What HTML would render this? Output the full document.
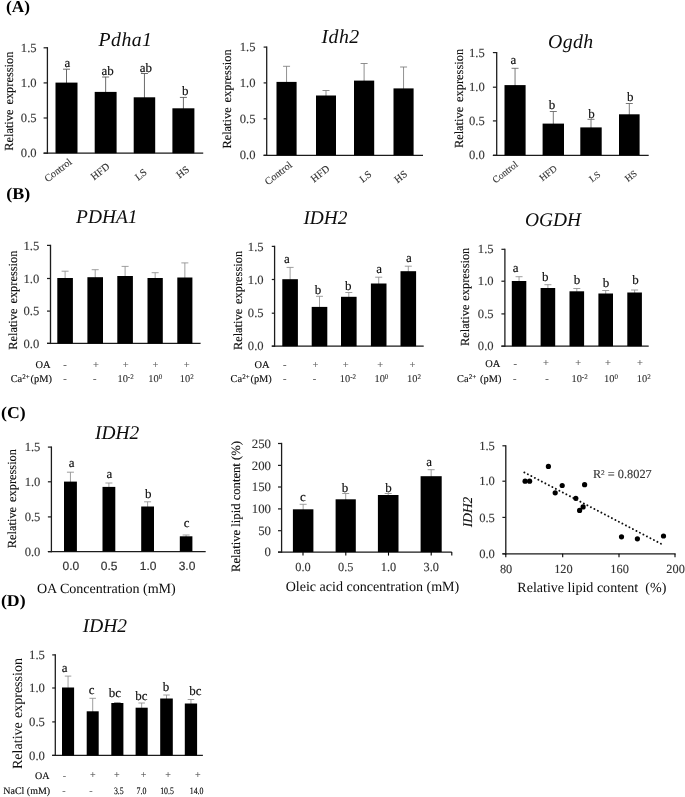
<!DOCTYPE html>
<html lang="en">
<head>
<meta charset="utf-8">
<title>Figure</title>
<style>
html, body { margin: 0; padding: 0; background: #ffffff; }
body { width: 685px; height: 797px; overflow: hidden; font-family: "Liberation Serif", serif; }
svg { display: block; }
svg text { font-family: "Liberation Serif", serif; text-rendering: geometricPrecision; stroke-width: 0.12px; }
svg text.sans { font-family: "Liberation Sans", sans-serif; stroke-width: 0.2px; }
</style>
</head>
<body>
<svg width="685" height="797" viewBox="0 0 685 797">
<defs><filter id="soft" x="0" y="0" width="685" height="797" filterUnits="userSpaceOnUse"><feGaussianBlur stdDeviation="0.38"/></filter></defs>
<rect x="0" y="0" width="685" height="797" fill="#ffffff"/>
<g filter="url(#soft)">
<text font-size="16.5" text-anchor="start" fill="#000" font-weight="bold" x="6" y="11.8" textLength="24" lengthAdjust="spacingAndGlyphs">(A)</text>
<text font-size="16.5" text-anchor="start" fill="#000" font-weight="bold" x="6.3" y="198.8" textLength="24" lengthAdjust="spacingAndGlyphs">(B)</text>
<text font-size="16.5" text-anchor="start" fill="#000" font-weight="bold" x="1" y="417.5" textLength="24.6" lengthAdjust="spacingAndGlyphs">(C)</text>
<text font-size="16.5" text-anchor="start" fill="#000" font-weight="bold" x="0.9" y="606.2" textLength="24.7" lengthAdjust="spacingAndGlyphs">(D)</text>
<text font-size="19.8" text-anchor="middle" fill="#0a0a0a" font-style="italic" x="125.5" y="46" letter-spacing="0.45">Pdha1</text>
<line x1="47.4" y1="47.15" x2="47.4" y2="153.85" stroke="#1c1c1c" stroke-width="1.3" />
<line x1="43.6" y1="47.8" x2="47.4" y2="47.8" stroke="#1c1c1c" stroke-width="1.2" />
<text font-size="12.6" text-anchor="end" fill="#333333" stroke="#333333" x="36.6" y="51.96">1.5</text>
<line x1="43.6" y1="82.9" x2="47.4" y2="82.9" stroke="#1c1c1c" stroke-width="1.2" />
<text font-size="12.6" text-anchor="end" fill="#333333" stroke="#333333" x="36.6" y="87.06">1.0</text>
<line x1="43.6" y1="118" x2="47.4" y2="118" stroke="#1c1c1c" stroke-width="1.2" />
<text font-size="12.6" text-anchor="end" fill="#333333" stroke="#333333" x="36.6" y="122.16">0.5</text>
<line x1="43.6" y1="153.2" x2="47.4" y2="153.2" stroke="#1c1c1c" stroke-width="1.2" />
<text font-size="12.6" text-anchor="end" fill="#333333" stroke="#333333" x="36.6" y="157.36">0.0</text>
<line x1="43.6" y1="153.2" x2="203.2" y2="153.2" stroke="#1c1c1c" stroke-width="1.3" />
<line x1="66.5" y1="69.2" x2="66.5" y2="83.6" stroke="#505050" stroke-width="0.85" />
<line x1="63" y1="69.2" x2="70" y2="69.2" stroke="#505050" stroke-width="0.85" />
<rect x="55.5" y="82.6" width="22" height="70.6" fill="#000"/>
<line x1="105.65" y1="77" x2="105.65" y2="92.9" stroke="#505050" stroke-width="0.85" />
<line x1="102.15" y1="77" x2="109.15" y2="77" stroke="#505050" stroke-width="0.85" />
<rect x="94.7" y="91.9" width="21.9" height="61.3" fill="#000"/>
<line x1="144.45" y1="73.5" x2="144.45" y2="98.3" stroke="#505050" stroke-width="0.85" />
<line x1="140.95" y1="73.5" x2="147.95" y2="73.5" stroke="#505050" stroke-width="0.85" />
<rect x="133.7" y="97.3" width="21.5" height="55.9" fill="#000"/>
<line x1="183.4" y1="97.4" x2="183.4" y2="109.3" stroke="#505050" stroke-width="0.85" />
<line x1="179.9" y1="97.4" x2="186.9" y2="97.4" stroke="#505050" stroke-width="0.85" />
<rect x="172.4" y="108.3" width="22" height="44.9" fill="#000"/>
<text font-size="13" text-anchor="middle" fill="#0a0a0a" stroke="#0a0a0a" x="67.4" y="67.4">a</text>
<text font-size="13" text-anchor="middle" fill="#0a0a0a" stroke="#0a0a0a" x="107.6" y="75.3">ab</text>
<text font-size="13" text-anchor="middle" fill="#0a0a0a" stroke="#0a0a0a" x="145.8" y="71.6">ab</text>
<text font-size="13" text-anchor="middle" fill="#0a0a0a" stroke="#0a0a0a" x="185.2" y="95">b</text>
<text font-size="12.4" text-anchor="middle" fill="#0a0a0a" stroke="#0a0a0a" transform="translate(13.02 101.2) rotate(-90)"  word-spacing="1.8">Relative expression</text>
<text font-size="10.3" text-anchor="middle" fill="#333333" stroke="#333333" transform="translate(60.1 172.83) rotate(-38)">Control</text>
<text font-size="10.3" text-anchor="middle" fill="#333333" stroke="#333333" transform="translate(102.2 174.13) rotate(-38)">HFD</text>
<text font-size="10.3" text-anchor="middle" fill="#333333" stroke="#333333" transform="translate(142.9 177.23) rotate(-38)">LS</text>
<text font-size="10.3" text-anchor="middle" fill="#333333" stroke="#333333" transform="translate(184.7 174.73) rotate(-38)">HS</text>
<text font-size="19.8" text-anchor="middle" fill="#0a0a0a" font-style="italic" x="340.6" y="43.2" letter-spacing="0.45">Idh2</text>
<line x1="266.7" y1="46.45" x2="266.7" y2="155.95" stroke="#1c1c1c" stroke-width="1.3" />
<line x1="263.6" y1="47.1" x2="266.7" y2="47.1" stroke="#1c1c1c" stroke-width="1.2" />
<text font-size="12.6" text-anchor="end" fill="#333333" stroke="#333333" x="255.5" y="51.26">1.5</text>
<line x1="263.6" y1="82.9" x2="266.7" y2="82.9" stroke="#1c1c1c" stroke-width="1.2" />
<text font-size="12.6" text-anchor="end" fill="#333333" stroke="#333333" x="255.5" y="87.06">1.0</text>
<line x1="263.6" y1="118.8" x2="266.7" y2="118.8" stroke="#1c1c1c" stroke-width="1.2" />
<text font-size="12.6" text-anchor="end" fill="#333333" stroke="#333333" x="255.5" y="122.96">0.5</text>
<line x1="263.6" y1="155.3" x2="266.7" y2="155.3" stroke="#1c1c1c" stroke-width="1.2" />
<text font-size="12.6" text-anchor="end" fill="#333333" stroke="#333333" x="255.5" y="159.46">0.0</text>
<line x1="263.6" y1="155.3" x2="423" y2="155.3" stroke="#1c1c1c" stroke-width="1.3" />
<line x1="286.55" y1="66.3" x2="286.55" y2="82.9" stroke="#7c7c7c" stroke-width="0.85" />
<line x1="283.05" y1="66.3" x2="290.05" y2="66.3" stroke="#7c7c7c" stroke-width="0.85" />
<rect x="276.5" y="81.9" width="20.1" height="73.4" fill="#000"/>
<line x1="326" y1="90.5" x2="326" y2="96.5" stroke="#7c7c7c" stroke-width="0.85" />
<line x1="322.5" y1="90.5" x2="329.5" y2="90.5" stroke="#7c7c7c" stroke-width="0.85" />
<rect x="316" y="95.5" width="20" height="59.8" fill="#000"/>
<line x1="364.1" y1="63.5" x2="364.1" y2="81.6" stroke="#7c7c7c" stroke-width="0.85" />
<line x1="360.6" y1="63.5" x2="367.6" y2="63.5" stroke="#7c7c7c" stroke-width="0.85" />
<rect x="354" y="80.6" width="20.2" height="74.7" fill="#000"/>
<line x1="403.55" y1="67" x2="403.55" y2="89.4" stroke="#7c7c7c" stroke-width="0.85" />
<line x1="400.05" y1="67" x2="407.05" y2="67" stroke="#7c7c7c" stroke-width="0.85" />
<rect x="393.5" y="88.4" width="20.1" height="66.9" fill="#000"/>
<text font-size="12.4" text-anchor="middle" fill="#0a0a0a" stroke="#0a0a0a" transform="translate(231.22 99) rotate(-90)"  word-spacing="1.8">Relative expression</text>
<text font-size="10.3" text-anchor="middle" fill="#333333" stroke="#333333" transform="translate(280.4 175.83) rotate(-38)">Control</text>
<text font-size="10.3" text-anchor="middle" fill="#333333" stroke="#333333" transform="translate(322.2 176.33) rotate(-38)">HFD</text>
<text font-size="10.3" text-anchor="middle" fill="#333333" stroke="#333333" transform="translate(367.5 179.23) rotate(-38)">LS</text>
<text font-size="10.3" text-anchor="middle" fill="#333333" stroke="#333333" transform="translate(402.7 179.33) rotate(-38)">HS</text>
<text font-size="19.8" text-anchor="middle" fill="#0a0a0a" font-style="italic" x="570.8" y="47.7" letter-spacing="0.35">Ogdh</text>
<line x1="496.7" y1="51.95" x2="496.7" y2="155.95" stroke="#1c1c1c" stroke-width="1.3" />
<line x1="492.9" y1="52.6" x2="496.7" y2="52.6" stroke="#1c1c1c" stroke-width="1.2" />
<text font-size="12.6" text-anchor="end" fill="#333333" stroke="#333333" x="484.7" y="56.76">1.5</text>
<line x1="492.9" y1="87.2" x2="496.7" y2="87.2" stroke="#1c1c1c" stroke-width="1.2" />
<text font-size="12.6" text-anchor="end" fill="#333333" stroke="#333333" x="484.7" y="91.36">1.0</text>
<line x1="492.9" y1="120.9" x2="496.7" y2="120.9" stroke="#1c1c1c" stroke-width="1.2" />
<text font-size="12.6" text-anchor="end" fill="#333333" stroke="#333333" x="484.7" y="125.06">0.5</text>
<line x1="492.9" y1="155.3" x2="496.7" y2="155.3" stroke="#1c1c1c" stroke-width="1.2" />
<text font-size="12.6" text-anchor="end" fill="#333333" stroke="#333333" x="484.7" y="159.46">0.0</text>
<line x1="492.9" y1="155.3" x2="648.7" y2="155.3" stroke="#1c1c1c" stroke-width="1.3" />
<line x1="515.05" y1="68.3" x2="515.05" y2="86.1" stroke="#606060" stroke-width="0.85" />
<line x1="511.55" y1="68.3" x2="518.55" y2="68.3" stroke="#606060" stroke-width="0.85" />
<rect x="504.5" y="85.1" width="21.1" height="70.2" fill="#000"/>
<line x1="553.3" y1="111.5" x2="553.3" y2="124.6" stroke="#606060" stroke-width="0.85" />
<line x1="549.8" y1="111.5" x2="556.8" y2="111.5" stroke="#606060" stroke-width="0.85" />
<rect x="542.6" y="123.6" width="21.4" height="31.7" fill="#000"/>
<line x1="591" y1="119.3" x2="591" y2="128.4" stroke="#606060" stroke-width="0.85" />
<line x1="587.5" y1="119.3" x2="594.5" y2="119.3" stroke="#606060" stroke-width="0.85" />
<rect x="580.3" y="127.4" width="21.4" height="27.9" fill="#000"/>
<line x1="629.3" y1="103.5" x2="629.3" y2="115.3" stroke="#606060" stroke-width="0.85" />
<line x1="625.8" y1="103.5" x2="632.8" y2="103.5" stroke="#606060" stroke-width="0.85" />
<rect x="619" y="114.3" width="20.6" height="41" fill="#000"/>
<text font-size="13" text-anchor="middle" fill="#0a0a0a" stroke="#0a0a0a" x="513.4" y="64.3">a</text>
<text font-size="13" text-anchor="middle" fill="#0a0a0a" stroke="#0a0a0a" x="552" y="109.3">b</text>
<text font-size="13" text-anchor="middle" fill="#0a0a0a" stroke="#0a0a0a" x="591.4" y="117.6">b</text>
<text font-size="13" text-anchor="middle" fill="#0a0a0a" stroke="#0a0a0a" x="630.3" y="100.5">b</text>
<text font-size="12.4" text-anchor="middle" fill="#0a0a0a" stroke="#0a0a0a" transform="translate(462.52 98.5) rotate(-90)"  word-spacing="1.8">Relative expression</text>
<text font-size="9.6" text-anchor="middle" fill="#333333" stroke="#333333" transform="translate(507.17 174.57) rotate(-38)">Control</text>
<text font-size="9.6" text-anchor="middle" fill="#333333" stroke="#333333" transform="translate(550.07 175.57) rotate(-38)">HFD</text>
<text font-size="9.6" text-anchor="middle" fill="#333333" stroke="#333333" transform="translate(596.77 179.17) rotate(-38)">LS</text>
<text font-size="9.6" text-anchor="middle" fill="#333333" stroke="#333333" transform="translate(632.77 178.57) rotate(-38)">HS</text>
<text font-size="19.4" text-anchor="middle" fill="#0a0a0a" font-style="italic" x="106.8" y="222.7">PDHA1</text>
<line x1="50.5" y1="244.75" x2="50.5" y2="344.05" stroke="#1c1c1c" stroke-width="1.3" />
<line x1="47" y1="245.4" x2="50.5" y2="245.4" stroke="#1c1c1c" stroke-width="1.2" />
<text font-size="12.6" text-anchor="end" fill="#333333" stroke="#333333" x="39.3" y="249.56">1.5</text>
<line x1="47" y1="278.5" x2="50.5" y2="278.5" stroke="#1c1c1c" stroke-width="1.2" />
<text font-size="12.6" text-anchor="end" fill="#333333" stroke="#333333" x="39.3" y="282.66">1.0</text>
<line x1="47" y1="311.1" x2="50.5" y2="311.1" stroke="#1c1c1c" stroke-width="1.2" />
<text font-size="12.6" text-anchor="end" fill="#333333" stroke="#333333" x="39.3" y="315.26">0.5</text>
<line x1="47" y1="343.4" x2="50.5" y2="343.4" stroke="#1c1c1c" stroke-width="1.2" />
<text font-size="12.6" text-anchor="end" fill="#333333" stroke="#333333" x="39.3" y="347.56">0.0</text>
<line x1="47" y1="343.4" x2="200.6" y2="343.4" stroke="#1c1c1c" stroke-width="1.3" />
<line x1="65.1" y1="271.2" x2="65.1" y2="279" stroke="#8e8e8e" stroke-width="0.85" />
<line x1="61.6" y1="271.2" x2="68.6" y2="271.2" stroke="#8e8e8e" stroke-width="0.85" />
<rect x="57.3" y="278" width="15.6" height="65.4" fill="#000"/>
<line x1="95.2" y1="269.7" x2="95.2" y2="278.2" stroke="#8e8e8e" stroke-width="0.85" />
<line x1="91.7" y1="269.7" x2="98.7" y2="269.7" stroke="#8e8e8e" stroke-width="0.85" />
<rect x="87.4" y="277.2" width="15.6" height="66.2" fill="#000"/>
<line x1="125.1" y1="266.4" x2="125.1" y2="277" stroke="#8e8e8e" stroke-width="0.85" />
<line x1="121.6" y1="266.4" x2="128.6" y2="266.4" stroke="#8e8e8e" stroke-width="0.85" />
<rect x="117.3" y="276" width="15.6" height="67.4" fill="#000"/>
<line x1="155.15" y1="272.7" x2="155.15" y2="279" stroke="#8e8e8e" stroke-width="0.85" />
<line x1="151.65" y1="272.7" x2="158.65" y2="272.7" stroke="#8e8e8e" stroke-width="0.85" />
<rect x="147.5" y="278" width="15.3" height="65.4" fill="#000"/>
<line x1="184.85" y1="262.9" x2="184.85" y2="278.5" stroke="#8e8e8e" stroke-width="0.85" />
<line x1="181.35" y1="262.9" x2="188.35" y2="262.9" stroke="#8e8e8e" stroke-width="0.85" />
<rect x="177.3" y="277.5" width="15.1" height="65.9" fill="#000"/>
<text font-size="12.4" text-anchor="middle" fill="#0a0a0a" stroke="#0a0a0a" transform="translate(17.02 300.2) rotate(-90)"  word-spacing="1.8">Relative expression</text>
<text font-size="10.4" text-anchor="end" fill="#0a0a0a" stroke="#0a0a0a" x="50.4" y="367.9">OA</text>
<text font-size="10.4" text-anchor="end" fill="#0a0a0a" stroke="#0a0a0a" x="51.9" y="381.8">Ca<tspan font-size="68%" dy="-3">2+</tspan><tspan dy="3" dx="0.8">(pM)</tspan></text>
<text font-size="10.4" text-anchor="middle" fill="#555555" stroke="#555555" x="65.1" y="367.5">-</text>
<text font-size="10.4" text-anchor="middle" fill="#555555" stroke="#555555" x="96" y="367.5">+</text>
<text font-size="10.4" text-anchor="middle" fill="#555555" stroke="#555555" x="125.8" y="367.5">+</text>
<text font-size="10.4" text-anchor="middle" fill="#555555" stroke="#555555" x="155.5" y="367.5">+</text>
<text font-size="10.4" text-anchor="middle" fill="#555555" stroke="#555555" x="186.8" y="367.5">+</text>
<text font-size="10.4" text-anchor="middle" fill="#555555" stroke="#555555" x="65.1" y="381.5">-</text>
<text font-size="10.4" text-anchor="middle" fill="#555555" stroke="#555555" x="94.8" y="381.5">-</text>
<text font-size="10.4" text-anchor="middle" fill="#333333" stroke="#333333" x="125.6" y="381.8">10<tspan font-size="68%" dy="-3">-2</tspan></text>
<text font-size="10.4" text-anchor="middle" fill="#333333" stroke="#333333" x="155.3" y="381.8">10<tspan font-size="68%" dy="-3">0</tspan></text>
<text font-size="10.4" text-anchor="middle" fill="#333333" stroke="#333333" x="186.8" y="381.8">10<tspan font-size="68%" dy="-3">2</tspan></text>
<text font-size="19.4" text-anchor="middle" fill="#0a0a0a" font-style="italic" x="325.5" y="224">IDH2</text>
<line x1="274.6" y1="245.75" x2="274.6" y2="346.85" stroke="#1c1c1c" stroke-width="1.3" />
<line x1="271.8" y1="246.4" x2="274.6" y2="246.4" stroke="#1c1c1c" stroke-width="1.2" />
<text font-size="12.6" text-anchor="end" fill="#333333" stroke="#333333" x="263.6" y="250.56">1.5</text>
<line x1="271.8" y1="279.5" x2="274.6" y2="279.5" stroke="#1c1c1c" stroke-width="1.2" />
<text font-size="12.6" text-anchor="end" fill="#333333" stroke="#333333" x="263.6" y="283.66">1.0</text>
<line x1="271.8" y1="313.2" x2="274.6" y2="313.2" stroke="#1c1c1c" stroke-width="1.2" />
<text font-size="12.6" text-anchor="end" fill="#333333" stroke="#333333" x="263.6" y="317.36">0.5</text>
<line x1="271.8" y1="346.2" x2="274.6" y2="346.2" stroke="#1c1c1c" stroke-width="1.2" />
<text font-size="12.6" text-anchor="end" fill="#333333" stroke="#333333" x="263.6" y="350.36">0.0</text>
<line x1="271.8" y1="346.2" x2="423.7" y2="346.2" stroke="#1c1c1c" stroke-width="1.3" />
<line x1="290.1" y1="267.4" x2="290.1" y2="280.2" stroke="#8e8e8e" stroke-width="0.85" />
<line x1="286.6" y1="267.4" x2="293.6" y2="267.4" stroke="#8e8e8e" stroke-width="0.85" />
<rect x="282.3" y="279.2" width="15.6" height="67" fill="#000"/>
<line x1="319.5" y1="296.3" x2="319.5" y2="307.9" stroke="#8e8e8e" stroke-width="0.85" />
<line x1="316" y1="296.3" x2="323" y2="296.3" stroke="#8e8e8e" stroke-width="0.85" />
<rect x="311.7" y="306.9" width="15.6" height="39.3" fill="#000"/>
<line x1="348.8" y1="292.5" x2="348.8" y2="297.8" stroke="#8e8e8e" stroke-width="0.85" />
<line x1="345.3" y1="292.5" x2="352.3" y2="292.5" stroke="#8e8e8e" stroke-width="0.85" />
<rect x="341" y="296.8" width="15.6" height="49.4" fill="#000"/>
<line x1="378.7" y1="277.2" x2="378.7" y2="284.5" stroke="#8e8e8e" stroke-width="0.85" />
<line x1="375.2" y1="277.2" x2="382.2" y2="277.2" stroke="#8e8e8e" stroke-width="0.85" />
<rect x="370.9" y="283.5" width="15.6" height="62.7" fill="#000"/>
<line x1="408.3" y1="266.2" x2="408.3" y2="272.2" stroke="#8e8e8e" stroke-width="0.85" />
<line x1="404.8" y1="266.2" x2="411.8" y2="266.2" stroke="#8e8e8e" stroke-width="0.85" />
<rect x="400.5" y="271.2" width="15.6" height="75" fill="#000"/>
<text font-size="13" text-anchor="middle" fill="#0a0a0a" stroke="#0a0a0a" x="286.8" y="263.4">a</text>
<text font-size="13" text-anchor="middle" fill="#0a0a0a" stroke="#0a0a0a" x="317.9" y="293.7">b</text>
<text font-size="13" text-anchor="middle" fill="#0a0a0a" stroke="#0a0a0a" x="348.3" y="289.8">b</text>
<text font-size="13" text-anchor="middle" fill="#0a0a0a" stroke="#0a0a0a" x="379.2" y="273.2">a</text>
<text font-size="13" text-anchor="middle" fill="#0a0a0a" stroke="#0a0a0a" x="408.9" y="261.6">a</text>
<text font-size="12.4" text-anchor="middle" fill="#0a0a0a" stroke="#0a0a0a" transform="translate(241.52 300.5) rotate(-90)"  word-spacing="1.8">Relative expression</text>
<text font-size="10.4" text-anchor="end" fill="#0a0a0a" stroke="#0a0a0a" x="269.6" y="368">OA</text>
<text font-size="10.4" text-anchor="end" fill="#0a0a0a" stroke="#0a0a0a" x="271.8" y="381.9">Ca<tspan font-size="68%" dy="-3">2+</tspan><tspan dy="3" dx="0.8">(pM)</tspan></text>
<text font-size="10.4" text-anchor="middle" fill="#555555" stroke="#555555" x="284.8" y="367.5">-</text>
<text font-size="10.4" text-anchor="middle" fill="#555555" stroke="#555555" x="315.5" y="367.5">+</text>
<text font-size="10.4" text-anchor="middle" fill="#555555" stroke="#555555" x="345.8" y="367.5">+</text>
<text font-size="10.4" text-anchor="middle" fill="#555555" stroke="#555555" x="380.2" y="367.5">+</text>
<text font-size="10.4" text-anchor="middle" fill="#555555" stroke="#555555" x="412.4" y="367.5">+</text>
<text font-size="10.4" text-anchor="middle" fill="#555555" stroke="#555555" x="284.8" y="381.5">-</text>
<text font-size="10.4" text-anchor="middle" fill="#555555" stroke="#555555" x="314.5" y="381.5">-</text>
<text font-size="10.4" text-anchor="middle" fill="#333333" stroke="#333333" x="348" y="381.9">10<tspan font-size="68%" dy="-3">-2</tspan></text>
<text font-size="10.4" text-anchor="middle" fill="#333333" stroke="#333333" x="381.4" y="381.9">10<tspan font-size="68%" dy="-3">0</tspan></text>
<text font-size="10.4" text-anchor="middle" fill="#333333" stroke="#333333" x="414" y="381.9">10<tspan font-size="68%" dy="-3">2</tspan></text>
<text font-size="19.4" text-anchor="middle" fill="#0a0a0a" font-style="italic" x="553" y="226">OGDH</text>
<line x1="504.9" y1="248.65" x2="504.9" y2="346.85" stroke="#1c1c1c" stroke-width="1.3" />
<line x1="501.4" y1="249.3" x2="504.9" y2="249.3" stroke="#1c1c1c" stroke-width="1.2" />
<text font-size="12.6" text-anchor="end" fill="#333333" stroke="#333333" x="493.6" y="253.46">1.5</text>
<line x1="501.4" y1="281.2" x2="504.9" y2="281.2" stroke="#1c1c1c" stroke-width="1.2" />
<text font-size="12.6" text-anchor="end" fill="#333333" stroke="#333333" x="493.6" y="285.36">1.0</text>
<line x1="501.4" y1="313.9" x2="504.9" y2="313.9" stroke="#1c1c1c" stroke-width="1.2" />
<text font-size="12.6" text-anchor="end" fill="#333333" stroke="#333333" x="493.6" y="318.06">0.5</text>
<line x1="501.4" y1="346.2" x2="504.9" y2="346.2" stroke="#1c1c1c" stroke-width="1.2" />
<text font-size="12.6" text-anchor="end" fill="#333333" stroke="#333333" x="493.6" y="350.36">0.0</text>
<line x1="501.4" y1="346.2" x2="648.7" y2="346.2" stroke="#1c1c1c" stroke-width="1.3" />
<line x1="519.05" y1="276.7" x2="519.05" y2="282" stroke="#8e8e8e" stroke-width="0.85" />
<line x1="515.55" y1="276.7" x2="522.55" y2="276.7" stroke="#8e8e8e" stroke-width="0.85" />
<rect x="511.8" y="281" width="14.5" height="65.2" fill="#000"/>
<line x1="547.9" y1="284.7" x2="547.9" y2="289" stroke="#8e8e8e" stroke-width="0.85" />
<line x1="544.4" y1="284.7" x2="551.4" y2="284.7" stroke="#8e8e8e" stroke-width="0.85" />
<rect x="540.6" y="288" width="14.6" height="58.2" fill="#000"/>
<line x1="576.8" y1="288.5" x2="576.8" y2="292.3" stroke="#8e8e8e" stroke-width="0.85" />
<line x1="573.3" y1="288.5" x2="580.3" y2="288.5" stroke="#8e8e8e" stroke-width="0.85" />
<rect x="569.5" y="291.3" width="14.6" height="54.9" fill="#000"/>
<line x1="605.7" y1="290.5" x2="605.7" y2="294.5" stroke="#8e8e8e" stroke-width="0.85" />
<line x1="602.2" y1="290.5" x2="609.2" y2="290.5" stroke="#8e8e8e" stroke-width="0.85" />
<rect x="598.4" y="293.5" width="14.6" height="52.7" fill="#000"/>
<line x1="634.6" y1="290" x2="634.6" y2="293.5" stroke="#8e8e8e" stroke-width="0.85" />
<line x1="631.1" y1="290" x2="638.1" y2="290" stroke="#8e8e8e" stroke-width="0.85" />
<rect x="627.3" y="292.5" width="14.6" height="53.7" fill="#000"/>
<text font-size="13" text-anchor="middle" fill="#0a0a0a" stroke="#0a0a0a" x="515.7" y="272.2">a</text>
<text font-size="13" text-anchor="middle" fill="#0a0a0a" stroke="#0a0a0a" x="545.2" y="281">b</text>
<text font-size="13" text-anchor="middle" fill="#0a0a0a" stroke="#0a0a0a" x="577" y="283.7">b</text>
<text font-size="13" text-anchor="middle" fill="#0a0a0a" stroke="#0a0a0a" x="606" y="287.2">b</text>
<text font-size="13" text-anchor="middle" fill="#0a0a0a" stroke="#0a0a0a" x="635.4" y="283.7">b</text>
<text font-size="12.4" text-anchor="middle" fill="#0a0a0a" stroke="#0a0a0a" transform="translate(469.42 296.8) rotate(-90)"  word-spacing="0.8">Relative expression</text>
<text font-size="10.4" text-anchor="end" fill="#0a0a0a" stroke="#0a0a0a" x="500.2" y="366.5">OA</text>
<text font-size="10.4" text-anchor="end" fill="#0a0a0a" stroke="#0a0a0a" x="501.4" y="381.5">Ca<tspan font-size="68%" dy="-3">2+</tspan><tspan dy="3" dx="3.9">(pM)</tspan></text>
<text font-size="10.4" text-anchor="middle" fill="#555555" stroke="#555555" x="515.2" y="366.8">-</text>
<text font-size="10.4" text-anchor="middle" fill="#555555" stroke="#555555" x="545.9" y="366">+</text>
<text font-size="10.4" text-anchor="middle" fill="#555555" stroke="#555555" x="578.3" y="366">+</text>
<text font-size="10.4" text-anchor="middle" fill="#555555" stroke="#555555" x="608" y="366">+</text>
<text font-size="10.4" text-anchor="middle" fill="#555555" stroke="#555555" x="639.9" y="366">+</text>
<text font-size="10.4" text-anchor="middle" fill="#555555" stroke="#555555" x="514.8" y="381.8">-</text>
<text font-size="10.4" text-anchor="middle" fill="#555555" stroke="#555555" x="547" y="381.8">-</text>
<text font-size="10.4" text-anchor="middle" fill="#333333" stroke="#333333" x="579.6" y="381.5">10<tspan font-size="68%" dy="-3">-2</tspan></text>
<text font-size="10.4" text-anchor="middle" fill="#333333" stroke="#333333" x="611" y="381.5">10<tspan font-size="68%" dy="-3">0</tspan></text>
<text font-size="10.4" text-anchor="middle" fill="#333333" stroke="#333333" x="643.7" y="381.5">10<tspan font-size="68%" dy="-3">2</tspan></text>
<text font-size="19.4" text-anchor="middle" fill="#0a0a0a" font-style="italic" x="117.2" y="439">IDH2</text>
<line x1="51.4" y1="446.45" x2="51.4" y2="552.25" stroke="#1c1c1c" stroke-width="1.3" />
<line x1="47.9" y1="447.1" x2="51.4" y2="447.1" stroke="#1c1c1c" stroke-width="1.2" />
<text font-size="12.6" text-anchor="end" fill="#333333" stroke="#333333" x="40.4" y="451.26">1.5</text>
<line x1="47.9" y1="481.8" x2="51.4" y2="481.8" stroke="#1c1c1c" stroke-width="1.2" />
<text font-size="12.6" text-anchor="end" fill="#333333" stroke="#333333" x="40.4" y="485.96">1.0</text>
<line x1="47.9" y1="516.9" x2="51.4" y2="516.9" stroke="#1c1c1c" stroke-width="1.2" />
<text font-size="12.6" text-anchor="end" fill="#333333" stroke="#333333" x="40.4" y="521.06">0.5</text>
<line x1="47.9" y1="551.6" x2="51.4" y2="551.6" stroke="#1c1c1c" stroke-width="1.2" />
<text font-size="12.6" text-anchor="end" fill="#333333" stroke="#333333" x="40.4" y="555.76">0.0</text>
<line x1="47.9" y1="551.6" x2="205.7" y2="551.6" stroke="#1c1c1c" stroke-width="1.3" />
<line x1="70.45" y1="472.2" x2="70.45" y2="482.6" stroke="#8e8e8e" stroke-width="0.85" />
<line x1="66.95" y1="472.2" x2="73.95" y2="472.2" stroke="#8e8e8e" stroke-width="0.85" />
<rect x="64" y="481.6" width="12.9" height="70" fill="#000"/>
<line x1="108.9" y1="483" x2="108.9" y2="487.9" stroke="#8e8e8e" stroke-width="0.85" />
<line x1="105.4" y1="483" x2="112.4" y2="483" stroke="#8e8e8e" stroke-width="0.85" />
<rect x="102.5" y="486.9" width="12.8" height="64.7" fill="#000"/>
<line x1="147.6" y1="501.8" x2="147.6" y2="507.5" stroke="#8e8e8e" stroke-width="0.85" />
<line x1="144.1" y1="501.8" x2="151.1" y2="501.8" stroke="#8e8e8e" stroke-width="0.85" />
<rect x="141.2" y="506.5" width="12.8" height="45.1" fill="#000"/>
<line x1="186.1" y1="535" x2="186.1" y2="537.3" stroke="#8e8e8e" stroke-width="0.85" />
<line x1="182.6" y1="535" x2="189.6" y2="535" stroke="#8e8e8e" stroke-width="0.85" />
<rect x="179.8" y="536.3" width="12.6" height="15.3" fill="#000"/>
<text font-size="13" text-anchor="middle" fill="#0a0a0a" stroke="#0a0a0a" x="71.6" y="466.7">a</text>
<text font-size="13" text-anchor="middle" fill="#0a0a0a" stroke="#0a0a0a" x="109.3" y="477.8">a</text>
<text font-size="13" text-anchor="middle" fill="#0a0a0a" stroke="#0a0a0a" x="148.2" y="497.9">b</text>
<text font-size="13" text-anchor="middle" fill="#0a0a0a" stroke="#0a0a0a" x="186.6" y="527.3">c</text>
<text font-size="12.4" text-anchor="middle" fill="#0a0a0a" stroke="#0a0a0a" transform="translate(15.72 498.6) rotate(-90)"  word-spacing="1.8">Relative expression</text>
<text font-size="12" text-anchor="middle" fill="#333" stroke="#333" class="sans" x="70.8" y="569.7">0.0</text>
<text font-size="12" text-anchor="middle" fill="#333" stroke="#333" class="sans" x="109.2" y="569.7">0.5</text>
<text font-size="12" text-anchor="middle" fill="#333" stroke="#333" class="sans" x="148.1" y="569.7">1.0</text>
<text font-size="12" text-anchor="middle" fill="#333" stroke="#333" class="sans" x="187" y="569.7">3.0</text>
<text font-size="14.05" text-anchor="start" fill="#0a0a0a" x="36.9" y="592.6">OA Concentration (mM)</text>
<line x1="281.6" y1="442.85" x2="281.6" y2="552.75" stroke="#1c1c1c" stroke-width="1.3" />
<line x1="278" y1="443.5" x2="281.6" y2="443.5" stroke="#1c1c1c" stroke-width="1.2" />
<text font-size="12.8" text-anchor="end" fill="#333333" stroke="#333333" x="271" y="447.72">250</text>
<line x1="278" y1="465.4" x2="281.6" y2="465.4" stroke="#1c1c1c" stroke-width="1.2" />
<text font-size="12.8" text-anchor="end" fill="#333333" stroke="#333333" x="271" y="469.62">200</text>
<line x1="278" y1="487" x2="281.6" y2="487" stroke="#1c1c1c" stroke-width="1.2" />
<text font-size="12.8" text-anchor="end" fill="#333333" stroke="#333333" x="271" y="491.22">150</text>
<line x1="278" y1="508.9" x2="281.6" y2="508.9" stroke="#1c1c1c" stroke-width="1.2" />
<text font-size="12.8" text-anchor="end" fill="#333333" stroke="#333333" x="271" y="513.12">100</text>
<line x1="278" y1="530.7" x2="281.6" y2="530.7" stroke="#1c1c1c" stroke-width="1.2" />
<text font-size="12.8" text-anchor="end" fill="#333333" stroke="#333333" x="271" y="534.92">50</text>
<line x1="278" y1="552.1" x2="281.6" y2="552.1" stroke="#1c1c1c" stroke-width="1.2" />
<text font-size="12.8" text-anchor="end" fill="#333333" stroke="#333333" x="271" y="556.32">0</text>
<line x1="278" y1="552.1" x2="451.8" y2="552.1" stroke="#1c1c1c" stroke-width="1.3" />
<line x1="303" y1="552.1" x2="303" y2="555.6" stroke="#000" stroke-width="1.1" />
<line x1="345.8" y1="552.1" x2="345.8" y2="555.6" stroke="#000" stroke-width="1.1" />
<line x1="388.5" y1="552.1" x2="388.5" y2="555.6" stroke="#000" stroke-width="1.1" />
<line x1="431.2" y1="552.1" x2="431.2" y2="555.6" stroke="#000" stroke-width="1.1" />
<line x1="451.8" y1="552.1" x2="451.8" y2="555.6" stroke="#000" stroke-width="1.1" />
<line x1="303.15" y1="504.3" x2="303.15" y2="510.3" stroke="#8e8e8e" stroke-width="0.85" />
<line x1="299.65" y1="504.3" x2="306.65" y2="504.3" stroke="#8e8e8e" stroke-width="0.85" />
<rect x="292.9" y="509.3" width="20.5" height="42.8" fill="#000"/>
<line x1="345.7" y1="493.5" x2="345.7" y2="500.3" stroke="#8e8e8e" stroke-width="0.85" />
<line x1="342.2" y1="493.5" x2="349.2" y2="493.5" stroke="#8e8e8e" stroke-width="0.85" />
<rect x="335.6" y="499.3" width="20.2" height="52.8" fill="#000"/>
<line x1="388.2" y1="493.5" x2="388.2" y2="496" stroke="#8e8e8e" stroke-width="0.85" />
<line x1="384.7" y1="493.5" x2="391.7" y2="493.5" stroke="#8e8e8e" stroke-width="0.85" />
<rect x="377.9" y="495" width="20.6" height="57.1" fill="#000"/>
<line x1="431.15" y1="469.7" x2="431.15" y2="477.2" stroke="#8e8e8e" stroke-width="0.85" />
<line x1="427.65" y1="469.7" x2="434.65" y2="469.7" stroke="#8e8e8e" stroke-width="0.85" />
<rect x="420.6" y="476.2" width="21.1" height="75.9" fill="#000"/>
<text font-size="13" text-anchor="middle" fill="#0a0a0a" stroke="#0a0a0a" x="303" y="500.6">c</text>
<text font-size="13" text-anchor="middle" fill="#0a0a0a" stroke="#0a0a0a" x="345" y="491.8">b</text>
<text font-size="13" text-anchor="middle" fill="#0a0a0a" stroke="#0a0a0a" x="388.5" y="491.8">b</text>
<text font-size="13" text-anchor="middle" fill="#0a0a0a" stroke="#0a0a0a" x="429.2" y="465.9">a</text>
<text font-size="12.65" text-anchor="middle" fill="#0a0a0a" stroke="#0a0a0a" transform="translate(240.09 506.5) rotate(-90)">Relative lipid content (%)</text>
<text font-size="12.3" text-anchor="middle" fill="#333333" stroke="#333333" x="303" y="570.8">0.0</text>
<text font-size="12.3" text-anchor="middle" fill="#333333" stroke="#333333" x="345.8" y="570.8">0.5</text>
<text font-size="12.3" text-anchor="middle" fill="#333333" stroke="#333333" x="388.5" y="570.8">1.0</text>
<text font-size="12.3" text-anchor="middle" fill="#333333" stroke="#333333" x="431.2" y="570.8">3.0</text>
<text font-size="14.05" text-anchor="start" fill="#0a0a0a" x="285.7" y="591">Oleic acid concentration (mM)</text>
<line x1="505.8" y1="445.15" x2="505.8" y2="554.45" stroke="#1c1c1c" stroke-width="1.3" />
<line x1="502.4" y1="445.8" x2="505.8" y2="445.8" stroke="#1c1c1c" stroke-width="1.2" />
<text font-size="12.6" text-anchor="end" fill="#333333" stroke="#333333" x="494.9" y="449.96">1.5</text>
<line x1="502.4" y1="481.2" x2="505.8" y2="481.2" stroke="#1c1c1c" stroke-width="1.2" />
<text font-size="12.6" text-anchor="end" fill="#333333" stroke="#333333" x="494.9" y="485.36">1.0</text>
<line x1="502.4" y1="517.4" x2="505.8" y2="517.4" stroke="#1c1c1c" stroke-width="1.2" />
<text font-size="12.6" text-anchor="end" fill="#333333" stroke="#333333" x="494.9" y="521.56">0.5</text>
<line x1="502.4" y1="553.8" x2="505.8" y2="553.8" stroke="#1c1c1c" stroke-width="1.2" />
<text font-size="12.6" text-anchor="end" fill="#333333" stroke="#333333" x="494.9" y="557.96">0.0</text>
<line x1="502.4" y1="553.8" x2="675.6" y2="553.8" stroke="#1c1c1c" stroke-width="1.3" />
<line x1="505.8" y1="553.8" x2="505.8" y2="557.3" stroke="#000" stroke-width="1.1" />
<line x1="562.7" y1="553.8" x2="562.7" y2="557.3" stroke="#000" stroke-width="1.1" />
<line x1="619" y1="553.8" x2="619" y2="557.3" stroke="#000" stroke-width="1.1" />
<line x1="675" y1="553.8" x2="675" y2="557.3" stroke="#000" stroke-width="1.1" />
<text font-size="12.3" text-anchor="middle" fill="#333333" stroke="#333333" x="506.1" y="572.9">80</text>
<text font-size="12.3" text-anchor="middle" fill="#333333" stroke="#333333" x="563.4" y="572.9">120</text>
<text font-size="12.3" text-anchor="middle" fill="#333333" stroke="#333333" x="619.6" y="572.9">160</text>
<text font-size="12.3" text-anchor="middle" fill="#333333" stroke="#333333" x="675.6" y="572.9">200</text>
<text font-size="13.3" text-anchor="middle" fill="#0a0a0a" stroke="#0a0a0a" font-style="italic" transform="translate(472.39 512) rotate(-90)">IDH2</text>
<circle cx="525.1" cy="481.2" r="2.6" fill="#000"/>
<circle cx="529.6" cy="481.2" r="2.6" fill="#000"/>
<circle cx="548.4" cy="466.4" r="2.6" fill="#000"/>
<circle cx="555.2" cy="492.8" r="2.6" fill="#000"/>
<circle cx="562.2" cy="485.5" r="2.6" fill="#000"/>
<circle cx="575.8" cy="498.3" r="2.6" fill="#000"/>
<circle cx="584.6" cy="484.7" r="2.6" fill="#000"/>
<circle cx="579.6" cy="510.4" r="2.6" fill="#000"/>
<circle cx="583.1" cy="506.9" r="2.6" fill="#000"/>
<circle cx="621.5" cy="536.8" r="2.6" fill="#000"/>
<circle cx="637.4" cy="538.8" r="2.6" fill="#000"/>
<circle cx="663.5" cy="536" r="2.6" fill="#000"/>
<line x1="524.3" y1="472.4" x2="663" y2="544.8" stroke="#111" stroke-width="1.9" stroke-dasharray="0.1 3.85" stroke-linecap="round"/>
<text font-size="12.3" text-anchor="start" fill="#333333" stroke="#333333" x="592.9" y="478">R<tspan font-size="60%" dy="-3.5">2</tspan><tspan dy="3.5"> = 0.8027</tspan></text>
<text font-size="14.05" text-anchor="start" fill="#0a0a0a" x="517.3" y="591.6" style="white-space:pre">Relative lipid content  (%)</text>
<text font-size="19.4" text-anchor="middle" fill="#0a0a0a" font-style="italic" x="104.9" y="632.3">IDH2</text>
<line x1="55.3" y1="654.25" x2="55.3" y2="756.05" stroke="#1c1c1c" stroke-width="1.3" />
<line x1="52.2" y1="654.9" x2="55.3" y2="654.9" stroke="#1c1c1c" stroke-width="1.2" />
<text font-size="12.7" text-anchor="end" fill="#333333" stroke="#333333" x="44.9" y="659.09">1.5</text>
<line x1="52.2" y1="688" x2="55.3" y2="688" stroke="#1c1c1c" stroke-width="1.2" />
<text font-size="12.7" text-anchor="end" fill="#333333" stroke="#333333" x="44.9" y="692.19">1.0</text>
<line x1="52.2" y1="721.9" x2="55.3" y2="721.9" stroke="#1c1c1c" stroke-width="1.2" />
<text font-size="12.7" text-anchor="end" fill="#333333" stroke="#333333" x="44.9" y="726.09">0.5</text>
<line x1="52.2" y1="755.4" x2="55.3" y2="755.4" stroke="#1c1c1c" stroke-width="1.2" />
<text font-size="12.7" text-anchor="end" fill="#333333" stroke="#333333" x="44.9" y="759.59">0.0</text>
<line x1="52.2" y1="755.4" x2="202.9" y2="755.4" stroke="#1c1c1c" stroke-width="1.3" />
<line x1="68.05" y1="676.1" x2="68.05" y2="688.5" stroke="#8e8e8e" stroke-width="0.85" />
<line x1="64.8" y1="676.1" x2="71.3" y2="676.1" stroke="#8e8e8e" stroke-width="0.85" />
<rect x="62" y="687.5" width="12.1" height="67.9" fill="#000"/>
<line x1="92.7" y1="698.3" x2="92.7" y2="712.3" stroke="#8e8e8e" stroke-width="0.85" />
<line x1="89.45" y1="698.3" x2="95.95" y2="698.3" stroke="#8e8e8e" stroke-width="0.85" />
<rect x="86.7" y="711.3" width="12" height="44.1" fill="#000"/>
<line x1="117.35" y1="702.5" x2="117.35" y2="704" stroke="#8e8e8e" stroke-width="0.85" />
<line x1="114.1" y1="702.5" x2="120.6" y2="702.5" stroke="#8e8e8e" stroke-width="0.85" />
<rect x="111.3" y="703" width="12.1" height="52.4" fill="#000"/>
<line x1="141.65" y1="703" x2="141.65" y2="708.7" stroke="#8e8e8e" stroke-width="0.85" />
<line x1="138.4" y1="703" x2="144.9" y2="703" stroke="#8e8e8e" stroke-width="0.85" />
<rect x="135.6" y="707.7" width="12.1" height="47.7" fill="#000"/>
<line x1="166.5" y1="695" x2="166.5" y2="699.5" stroke="#8e8e8e" stroke-width="0.85" />
<line x1="163.25" y1="695" x2="169.75" y2="695" stroke="#8e8e8e" stroke-width="0.85" />
<rect x="160.2" y="698.5" width="12.6" height="56.9" fill="#000"/>
<line x1="190.95" y1="699.5" x2="190.95" y2="704.5" stroke="#8e8e8e" stroke-width="0.85" />
<line x1="187.7" y1="699.5" x2="194.2" y2="699.5" stroke="#8e8e8e" stroke-width="0.85" />
<rect x="184.8" y="703.5" width="12.3" height="51.9" fill="#000"/>
<text font-size="13" text-anchor="middle" fill="#0a0a0a" stroke="#0a0a0a" x="64.6" y="671.6">a</text>
<text font-size="13" text-anchor="middle" fill="#0a0a0a" stroke="#0a0a0a" x="91.7" y="694.2">c</text>
<text font-size="13" text-anchor="middle" fill="#0a0a0a" stroke="#0a0a0a" x="115" y="697.3">bc</text>
<text font-size="13" text-anchor="middle" fill="#0a0a0a" stroke="#0a0a0a" x="141.4" y="700">bc</text>
<text font-size="13" text-anchor="middle" fill="#0a0a0a" stroke="#0a0a0a" x="166" y="691.2">b</text>
<text font-size="13" text-anchor="middle" fill="#0a0a0a" stroke="#0a0a0a" x="195.4" y="695.2">bc</text>
<text font-size="14.05" text-anchor="middle" fill="#0a0a0a" transform="translate(22.32 713.5) rotate(-90)"  word-spacing="0.6">Relative expression</text>
<text font-size="10" text-anchor="end" fill="#0a0a0a" stroke="#0a0a0a" x="49.5" y="778.7">OA</text>
<text font-size="10" text-anchor="end" fill="#0a0a0a" stroke="#0a0a0a" x="50.2" y="793.6">NaCl (mM)</text>
<text font-size="10" text-anchor="middle" fill="#555555" stroke="#555555" x="64.5" y="778.7">-</text>
<text font-size="10" text-anchor="middle" fill="#555555" stroke="#555555" x="92.7" y="778">+</text>
<text font-size="10" text-anchor="middle" fill="#555555" stroke="#555555" x="116.8" y="778">+</text>
<text font-size="10" text-anchor="middle" fill="#555555" stroke="#555555" x="143.5" y="778">+</text>
<text font-size="10" text-anchor="middle" fill="#555555" stroke="#555555" x="168" y="778">+</text>
<text font-size="10" text-anchor="middle" fill="#555555" stroke="#555555" x="197.9" y="778">+</text>
<text font-size="10" text-anchor="middle" fill="#555555" stroke="#555555" x="63.8" y="793.6">-</text>
<text font-size="10" text-anchor="middle" fill="#555555" stroke="#555555" x="90.8" y="793.6">-</text>
<text font-size="9.8" text-anchor="middle" fill="#0a0a0a" stroke="#0a0a0a" x="118.8" y="793.6" textLength="9.8" lengthAdjust="spacingAndGlyphs">3.5</text>
<text font-size="9.8" text-anchor="middle" fill="#0a0a0a" stroke="#0a0a0a" x="141.5" y="793.6" textLength="9.8" lengthAdjust="spacingAndGlyphs">7.0</text>
<text font-size="9.8" text-anchor="middle" fill="#0a0a0a" stroke="#0a0a0a" x="167" y="793.6" textLength="13.72" lengthAdjust="spacingAndGlyphs">10.5</text>
<text font-size="9.8" text-anchor="middle" fill="#0a0a0a" stroke="#0a0a0a" x="196.6" y="793.6" textLength="13.72" lengthAdjust="spacingAndGlyphs">14.0</text>
</g>
</svg>
</body>
</html>
